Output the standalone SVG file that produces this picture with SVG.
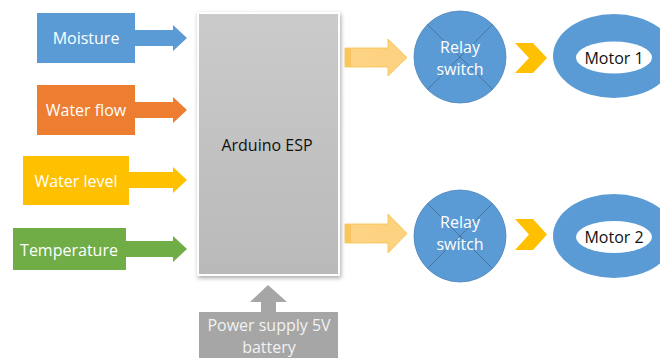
<svg xmlns="http://www.w3.org/2000/svg" width="660" height="358" viewBox="0 0 660 358">
<defs>
<style>
.t{font-family:"Open Sans","Liberation Sans",sans-serif;font-size:16px;text-anchor:middle;dominant-baseline:central}
.w{fill:#ffffff}
.k{fill:#111111}
.blue{fill:#5b9bd5}
.orange{fill:#ed7d31}
.yellow{fill:#ffc000}
.green{fill:#70ad47}
.gray{fill:#a6a6a6}
.xline{stroke:#3f5f80;stroke-width:0.8;opacity:0.8}
</style>
<linearGradient id="ard" x1="0" y1="0" x2="0" y2="1">
<stop offset="0" stop-color="#cbcbcb"/>
<stop offset="1" stop-color="#b9b9b9"/>
</linearGradient>
<linearGradient id="oarr" x1="0" y1="0" x2="1" y2="0">
<stop offset="0" stop-color="#fdd386"/>
<stop offset="1" stop-color="#fcd27f"/>
</linearGradient>
<filter id="sh" x="-10%" y="-10%" width="120%" height="120%">
<feDropShadow dx="1" dy="2" stdDeviation="2" flood-color="#000" flood-opacity="0.35"/>
</filter>
</defs>

<g id="connectors">
<path class="blue" d="M134 30H173V25L187 38L173 51V46H134Z"/>
<path class="orange" d="M134 102H173V97L187 110L173 123V118H134Z"/>
<path class="yellow" d="M128 172H173V167L187 180L173 193V188H128Z"/>
<path class="green" d="M125 241H173V236L187 249L173 262V257H125Z"/>
<g>
<path d="M345 48H388V39L407 57.5L388 76V67H345Z" fill="url(#oarr)" stroke="#f5c04a" stroke-width="0.8"/>
<rect x="345" y="48" width="6" height="19" fill="#f9c55e"/>
</g>
<g>
<path d="M345 224H388V214L407 233.5L388 253V243H345Z" fill="url(#oarr)" stroke="#f5c04a" stroke-width="0.8"/>
<rect x="345" y="224" width="6" height="19" fill="#f9c55e"/>
</g>
<path class="yellow" d="M515 43H533L547 58L533 73H515L529 58Z"/>
<path class="yellow" d="M515 219H533L547 234.5L533 250H515L529 234.5Z"/>
<path class="gray" d="M268 285L287 302H276V313H261V302H250Z"/>
</g>

<g id="moisture">
<rect class="blue" x="37" y="13" width="98" height="50"/>
<text class="t w" x="86" y="38">Moisture</text>
</g>
<g id="waterflow">
<rect class="orange" x="37" y="85" width="98" height="50"/>
<text class="t w" x="86" y="110">Water flow</text>
</g>
<g id="waterlevel">
<rect class="yellow" x="23" y="156" width="106" height="49"/>
<text class="t w" x="76" y="180.5">Water level</text>
</g>
<g id="temperature">
<rect class="green" x="13" y="228" width="113" height="42"/>
<text class="t w" x="69" y="250">Temperature</text>
</g>

<g id="arduino">
<rect x="198" y="13" width="141" height="262" fill="url(#ard)" stroke="#ffffff" stroke-width="2" filter="url(#sh)"/>
<text class="t k" x="267" y="145">Arduino ESP</text>
</g>

<g id="power">
<rect class="gray" x="199" y="312" width="139" height="50"/>
<text class="t" fill="#f2f2f2" x="269" y="325">Power supply 5V</text>
<text class="t" fill="#f2f2f2" x="269" y="347">battery</text>
</g>

<g id="relay1">
<circle class="blue" cx="460" cy="57" r="46" stroke="#4f87bb" stroke-width="0.8"/>
<line class="xline" x1="427.5" y1="24.5" x2="492.5" y2="89.5"/>
<line class="xline" x1="492.5" y1="24.5" x2="427.5" y2="89.5"/>
<text class="t w" x="460" y="47">Relay</text>
<text class="t w" x="460" y="69">switch</text>
</g>
<g id="relay2">
<circle class="blue" cx="460" cy="236" r="46" stroke="#4f87bb" stroke-width="0.8"/>
<line class="xline" x1="427.5" y1="203.5" x2="492.5" y2="268.5"/>
<line class="xline" x1="492.5" y1="203.5" x2="427.5" y2="268.5"/>
<text class="t w" x="460" y="222">Relay</text>
<text class="t w" x="460" y="244">switch</text>
</g>

<g id="motor1">
<ellipse class="blue" cx="614" cy="56" rx="61" ry="42"/>
<ellipse cx="614" cy="57.5" rx="38" ry="16" fill="#ffffff"/>
<text class="t k" x="614" y="57.5">Motor 1</text>
</g>
<g id="motor2">
<ellipse class="blue" cx="614" cy="236" rx="61" ry="42"/>
<ellipse cx="614" cy="237" rx="38" ry="16" fill="#ffffff"/>
<text class="t k" x="614" y="237">Motor 2</text>
</g>
</svg>
